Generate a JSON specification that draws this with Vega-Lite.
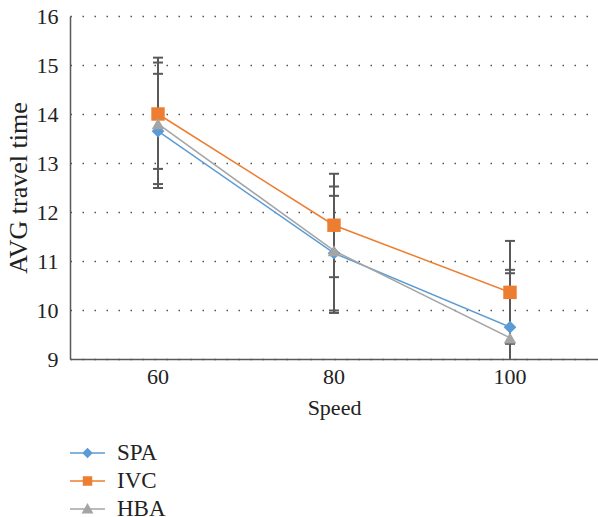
{
  "$schema": "https://vega.github.io/schema/vega-lite/v6.json",
  "width": 528,
  "height": 343,
  "autosize": {"type": "none"},
  "padding": {"left": 70, "top": 16, "right": 0, "bottom": 158},
  "background": "white",
  "config": {
    "view": {"stroke": null},
    "font": "Liberation Serif, Times New Roman, serif",
    "axis": {
      "labelFont": "Liberation Serif, Times New Roman, serif",
      "titleFont": "Liberation Serif, Times New Roman, serif",
      "labelColor": "#222222",
      "titleColor": "#222222",
      "titleFontWeight": "normal",
      "domainColor": "#595959",
      "domainWidth": 1.5,
      "ticks": false
    }
  },
  "data": {
    "values": [
      {"series": "SPA", "speed": "60", "value": 13.65, "lo": 12.49, "hi": 14.82},
      {"series": "SPA", "speed": "80", "value": 11.16, "lo": 9.99, "hi": 12.33},
      {"series": "SPA", "speed": "100", "value": 9.65, "lo": 8.48, "hi": 10.82},
      {"series": "IVC", "speed": "60", "value": 14.0, "lo": 12.88, "hi": 15.15},
      {"series": "IVC", "speed": "80", "value": 11.73, "lo": 10.67, "hi": 12.78},
      {"series": "IVC", "speed": "100", "value": 10.36, "lo": 9.31, "hi": 11.41},
      {"series": "HBA", "speed": "60", "value": 13.8, "lo": 12.57, "hi": 15.05},
      {"series": "HBA", "speed": "80", "value": 11.21, "lo": 9.94, "hi": 12.52},
      {"series": "HBA", "speed": "100", "value": 9.43, "lo": 8.11, "hi": 10.75}
    ]
  },
  "encoding": {
    "x": {
      "field": "speed",
      "type": "ordinal",
      "sort": ["60", "80", "100"],
      "scale": {"type": "band", "paddingInner": 0, "paddingOuter": 0},
      "axis": {
        "title": "Speed",
        "labelAngle": 0,
        "labelFontSize": 22,
        "labelPadding": 7,
        "titleFontSize": 22,
        "titlePadding": 10,
        "grid": false
      }
    }
  },
  "layer": [
    {
      "mark": {"type": "rule", "clip": true, "color": "#595959", "strokeWidth": 2},
      "encoding": {
        "y": {
          "field": "lo",
          "type": "quantitative",
          "scale": {"domain": [9, 16], "nice": false, "zero": false},
          "axis": {
            "title": "AVG travel time",
            "values": [9, 10, 11, 12, 13, 14, 15, 16],
            "labelFontSize": 22,
            "labelPadding": 12,
            "titleFontSize": 26,
            "titlePadding": 5,
            "grid": true,
            "gridDash": [1.5, 10.5],
            "gridColor": "#555555",
            "gridWidth": 1.5
          }
        },
        "y2": {"field": "hi"}
      }
    },
    {
      "mark": {"type": "tick", "clip": true, "color": "#595959", "thickness": 2, "size": 10, "opacity": 1},
      "encoding": {"y": {"field": "lo", "type": "quantitative", "axis": {"title": "AVG travel time"}}}
    },
    {
      "mark": {"type": "tick", "clip": true, "color": "#595959", "thickness": 2, "size": 10, "opacity": 1},
      "encoding": {"y": {"field": "hi", "type": "quantitative", "axis": {"title": "AVG travel time"}}}
    },
    {
      "mark": {"type": "line", "strokeWidth": 1.5},
      "encoding": {
        "y": {"field": "value", "type": "quantitative", "axis": {"title": "AVG travel time"}},
        "color": {
          "field": "series",
          "type": "nominal",
          "scale": {"domain": ["SPA", "IVC", "HBA"], "range": ["#5B9BD5", "#ED7D31", "#A5A5A5"]},
          "legend": {
            "orient": "none",
            "legendX": 0,
            "legendY": 427,
            "title": null,
            "padding": 0,
            "symbolType": "stroke",
            "symbolSize": 1225,
            "symbolStrokeWidth": 0,
            "labelFont": "Liberation Serif, Times New Roman, serif",
            "labelFontSize": 23,
            "labelColor": "#222222",
            "labelOffset": 12,
            "clipHeight": 20,
            "rowPadding": 5,
            "encode": {
              "symbols": {
                "update": {
                  "shape": {"signal": "datum.value === 'SPA' ? 'M-1,-0.045L1,-0.045L1,0.045L-1,0.045Z M0,-0.3L0.3,0L0,0.3L-0.3,0Z' : datum.value === 'IVC' ? 'M-1,-0.045L1,-0.045L1,0.045L-1,0.045Z M-0.27,-0.27L0.27,-0.27L0.27,0.27L-0.27,0.27Z' : 'M-1,-0.045L1,-0.045L1,0.045L-1,0.045Z M0,-0.34L0.34,0.26L-0.34,0.26Z'"},
                  "fill": {"scale": "color", "field": "value"},
                  "strokeWidth": {"value": 0},
                  "fillOpacity": {"value": 1}
                }
              }
            }
          }
        }
      }
    },
    {
      "transform": [{"filter": "datum.series === 'SPA'"}],
      "mark": {"type": "point", "filled": true, "size": 160, "opacity": 1, "shape": "diamond", "color": "#5B9BD5"},
      "encoding": {"y": {"field": "value", "type": "quantitative", "axis": {"title": "AVG travel time"}}}
    },
    {
      "transform": [{"filter": "datum.series === 'IVC'"}],
      "mark": {"type": "point", "filled": true, "size": 180, "opacity": 1, "shape": "square", "color": "#ED7D31"},
      "encoding": {"y": {"field": "value", "type": "quantitative", "axis": {"title": "AVG travel time"}}}
    },
    {
      "transform": [{"filter": "datum.series === 'HBA'"}],
      "mark": {"type": "point", "filled": true, "size": 160, "opacity": 1, "shape": "triangle-up", "color": "#A5A5A5"},
      "encoding": {"y": {"field": "value", "type": "quantitative", "axis": {"title": "AVG travel time"}}}
    }
  ]
}
